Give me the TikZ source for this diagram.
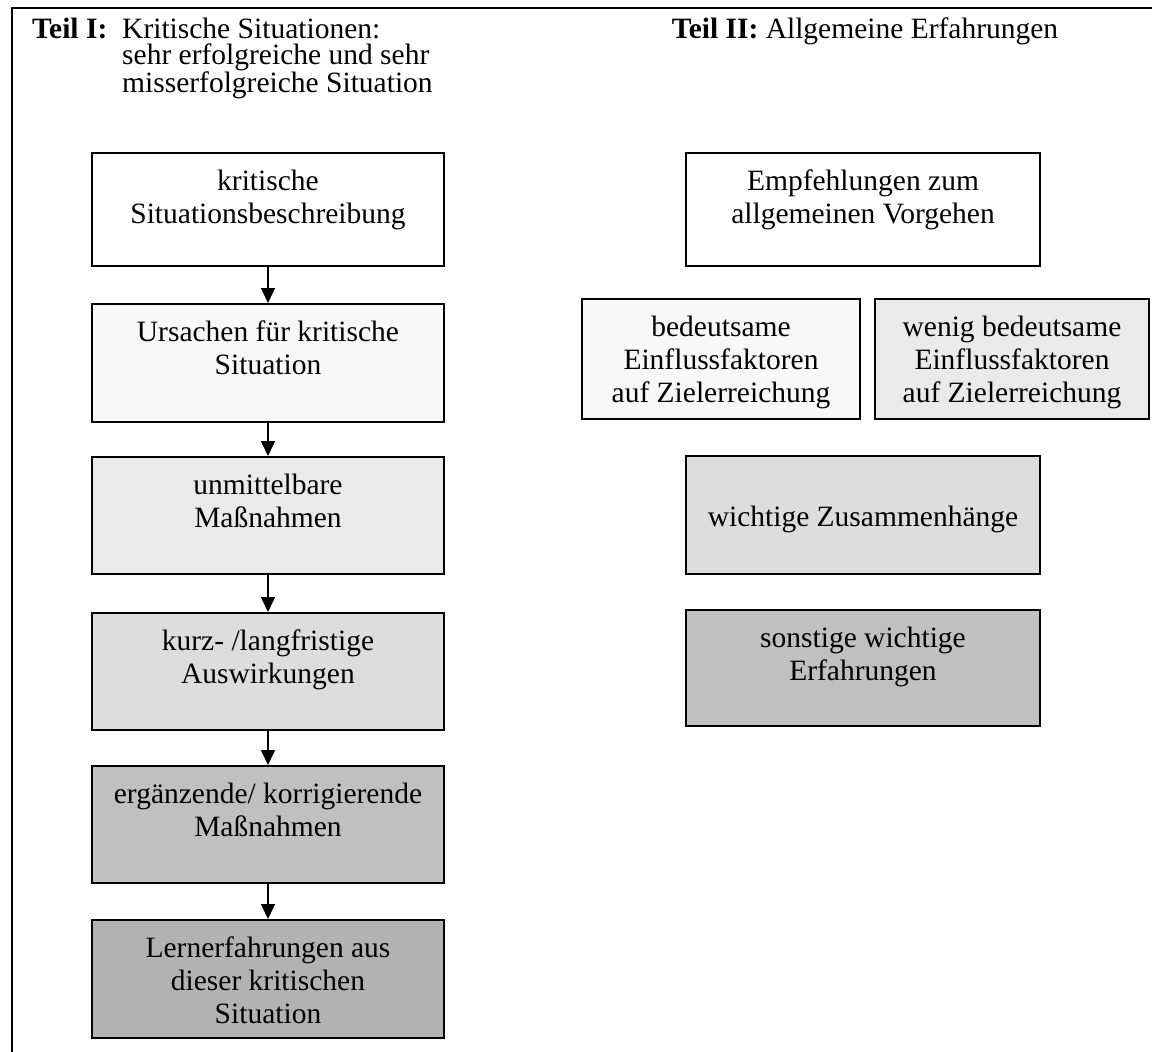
\documentclass[tikz,border=0pt]{standalone}
\usepackage{fontspec}
\setmainfont{Liberation Serif}
\usetikzlibrary{arrows.meta}

\definecolor{greyA}{HTML}{F8F8F8}
\definecolor{greyB}{HTML}{EAEAEA}
\definecolor{greyC}{HTML}{DDDDDD}
\definecolor{greyD}{HTML}{C0C0C0}
\definecolor{greyE}{HTML}{B2B2B2}

% box content: [first baseline]{width}{height}{lines}
\newcommand{\boxtext}[4][38]{%
  \parbox[t][#3pt][t]{#2pt}{\centering\rule{0pt}{#1pt}#4}}

\begin{document}
\begin{tikzpicture}[
    x=1pt, y=-1pt,
    every node/.style={font=\fontsize{29.5pt}{33pt}\selectfont},
    box/.style={draw=black, line width=1.8pt, inner sep=0pt, anchor=north},
    flow/.style={line width=1.6pt, -{Triangle[width=14pt,length=15pt]}},
    frame/.style={line width=2.6pt, line cap=rect}
  ]
  \useasboundingbox (0,0) rectangle (1152,1052);
  \fill[white] (0,0) rectangle (1152,1052);

  % outer frame (top and left edges)
  \draw[frame] (12,1052) -- (12,8) -- (1152,8);

  % headings
  \node[anchor=north west, inner sep=0pt] (h1) at (32,0)
    {\parbox[t]{90pt}{\rule{0pt}{38pt}\bfseries Teil I:}};
  \node[anchor=north west, inner sep=0pt] (h1txt) at (122,0)
    {\parbox[t]{420pt}{\fontsize{29.5pt}{26.5pt}\selectfont\raggedright
      \rule{0pt}{38pt}Kritische Situationen:\\
      sehr erfolgreiche und sehr\\
      misserfolgreiche Situation}};
  \node[anchor=north, inner sep=0pt] (h2) at (865,0)
    {\parbox[t]{460pt}{\centering\rule{0pt}{38pt}\textbf{Teil II:} Allgemeine Erfahrungen}};

  % part I: chain of situation steps
  \node[box, fill=white] (b1) at (268,152)
    {\boxtext{352}{113}{kritische\\Situationsbeschreibung}};
  \node[box, fill=greyA] (b2) at (268,303)
    {\boxtext{352}{118}{Ursachen für kritische\\Situation}};
  \node[box, fill=greyB] (b3) at (268,456)
    {\boxtext{352}{117}{unmittelbare\\Maßnahmen}};
  \node[box, fill=greyC] (b4) at (268,612)
    {\boxtext{352}{117}{kurz- /langfristige\\Auswirkungen}};
  \node[box, fill=greyD] (b5) at (268,765)
    {\boxtext{352}{117}{ergänzende/ korrigierende\\Maßnahmen}};
  \node[box, fill=greyE] (b6) at (268,919)
    {\boxtext{352}{118}{Lernerfahrungen aus\\dieser kritischen\\Situation}};

  \draw[flow] (b1.south) -- (b2.north);
  \draw[flow] (b2.south) -- (b3.north);
  \draw[flow] (b3.south) -- (b4.north);
  \draw[flow] (b4.south) -- (b5.north);
  \draw[flow] (b5.south) -- (b6.north);

  % part II: general experiences
  \node[box, fill=white] (r1) at (863,152)
    {\boxtext{354}{113}{Empfehlungen zum\\allgemeinen Vorgehen}};
  \node[box, fill=greyA] (r2a) at (721,298)
    {\boxtext{278}{120}{bedeutsame\\Einflussfaktoren\\auf Zielerreichung}};
  \node[box, fill=greyB] (r2b) at (1012,298)
    {\boxtext{274}{120}{wenig bedeutsame\\Einflussfaktoren\\auf Zielerreichung}};
  \node[box, fill=greyC] (r3) at (863,455)
    {\boxtext[71]{354}{118}{wichtige Zusammenhänge}};
  \node[box, fill=greyD] (r4) at (863,609)
    {\boxtext{354}{116}{sonstige wichtige\\Erfahrungen}};
\end{tikzpicture}
\end{document}
